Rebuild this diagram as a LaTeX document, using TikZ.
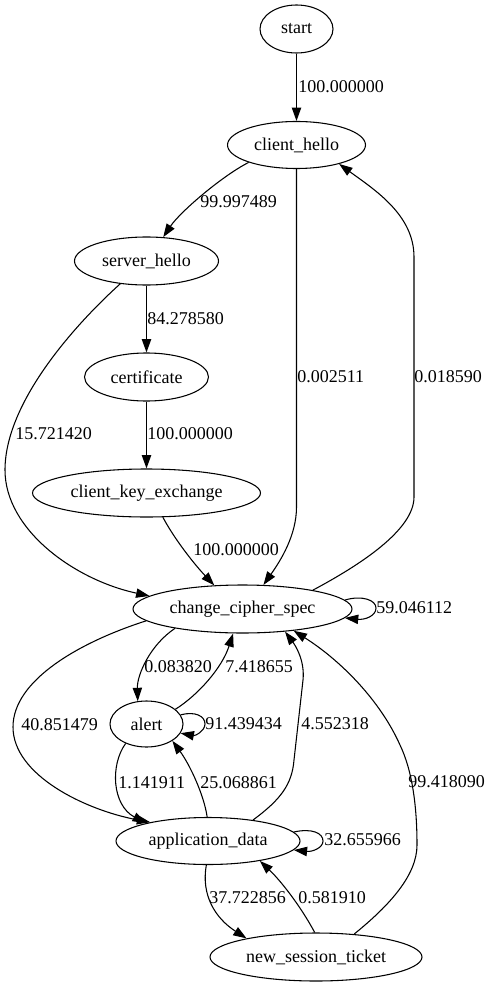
\documentclass[tikz,border=0pt]{standalone}
\usepackage{fontspec}
\setmainfont{Liberation Serif}
\usetikzlibrary{shapes.geometric,arrows.meta}
\begin{document}
\begin{tikzpicture}[x=0.75pt,y=-0.75pt,
  st/.style={ellipse,draw,line width=0.8pt,inner sep=0pt,font=\fontsize{13.5pt}{16pt}\selectfont},
  e/.style={draw,line width=0.8pt,-{Triangle[length=10pt,width=7pt]}},
  lb/.style={anchor=west,inner sep=0pt,font=\fontsize{13.5pt}{16pt}\selectfont}]
\useasboundingbox (0,0) rectangle (492,987);
\fill[white] (0,0) rectangle (492,987);
% nodes
\node[st,minimum width=54.75pt,minimum height=36pt] (start) at (296.5,29) {start};
\node[st,minimum width=103.5pt,minimum height=35.25pt] (ch) at (296.5,145) {client\_hello};
\node[st,minimum width=108pt,minimum height=36pt] (sh) at (146.5,261) {server\_hello};
\node[st,minimum width=93pt,minimum height=36pt] (cert) at (146.5,377) {certificate};
\node[st,minimum width=171pt,minimum height=36pt] (cke) at (146.5,493) {client\_key\_exchange};
\node[st,minimum width=164.25pt,minimum height=36pt] (ccs) at (242.5,609) {change\_cipher\_spec};
\node[st,minimum width=54.75pt,minimum height=34.5pt] (alert) at (146.5,724) {alert};
\node[st,minimum width=138pt,minimum height=35.25pt] (app) at (208,841) {application\_data};
\node[st,minimum width=159pt,minimum height=36pt] (nst) at (316,957) {new\_session\_ticket};
% edges
\draw[e] (start) -- (ch);
\draw[e] (ch.200) .. controls (222,176) and (180,212) .. (sh.55);
\draw[e] (ch.south) -- (296.5,507) .. controls (296.5,535) and (281,560) .. (ccs.49);
\draw[e] (ccs.15) .. controls (360,565) and (414,530) .. (414,497) -- (414,257) .. controls (414,215) and (375,190) .. (ch.-24);
\draw[e] (sh) -- (cert);
\draw[e] (sh.221) .. controls (80,320) and (5,400) .. (5,470) .. controls (5,530) and (75,580) .. (ccs.172);
\draw[e] (cert) -- (cke);
\draw[e] (cke.-56) .. controls (175,540) and (195,565) .. (ccs.140);
\draw[e] (ccs.5) .. controls (362,595) and (376,600) .. (376,608) .. controls (376,616) and (365,620) .. (ccs.-5);
\draw[e] (ccs.196) .. controls (150,645) and (137,675) .. (alert.111);
\draw[e] (alert.27) .. controls (198,695) and (222,668) .. (ccs.-111);
\draw[e] (alert.15) .. controls (195,711) and (205,716) .. (205,724) .. controls (205,731) and (195,736) .. (alert.-15);
\draw[e] (ccs.187) .. controls (80,642) and (13,680) .. (13,727) .. controls (13,775) and (85,810) .. (app.162);
\draw[e] (alert.-137) .. controls (110,765) and (112,805) .. (app.164);
\draw[e] (app.92) .. controls (204,795) and (190,765) .. (alert.-33);
\draw[e] (app.25) .. controls (280,800) and (292,785) .. (294,760) -- (303,680) .. controls (305,660) and (295,645) .. (ccs.-28);
\draw[e] (app.6) .. controls (312,828) and (323,833) .. (323,841) .. controls (323,848) and (312,852) .. (app.-6);
\draw[e] (app.-94) .. controls (201,895) and (215,918) .. (nst.165);
\draw[e] (nst.93) .. controls (300,905) and (280,880) .. (app.-21);
\draw[e] (nst.31) .. controls (390,905) and (417,875) .. (417,845) .. controls (417,805) and (412,770) .. (400,745) .. controls (380,700) and (340,660) .. (ccs.-23);
% labels
\node[lb] (l1) at (298,87) {100.000000};
\node[lb] (l2) at (200,202) {99.997489};
\node[lb] (l3) at (297,377) {0.002511};
\node[lb] (l4) at (414,377) {0.018590};
\node[lb] (l5) at (147,319) {84.278580};
\node[lb] (l6) at (15,434) {15.721420};
\node[lb] (l7) at (147,434) {100.000000};
\node[lb] (l8) at (193,550) {100.000000};
\node[lb] (l9) at (376,608) {59.046112};
\node[lb] (l10) at (144,667) {0.083820};
\node[lb] (l11) at (225,667) {7.418655};
\node[lb] (l12) at (205,724) {91.439434};
\node[lb] (l13) at (21,725) {40.851479};
\node[lb] (l14) at (301,724) {4.552318};
\node[lb] (l15) at (118,783) {1.141911};
\node[lb] (l16) at (200,783) {25.068861};
\node[lb] (l17) at (408,782) {99.418090};
\node[lb] (l18) at (324,840) {32.655966};
\node[lb] (l19) at (209,898) {37.722856};
\node[lb] (l20) at (298,898) {0.581910};
\end{tikzpicture}
\end{document}
